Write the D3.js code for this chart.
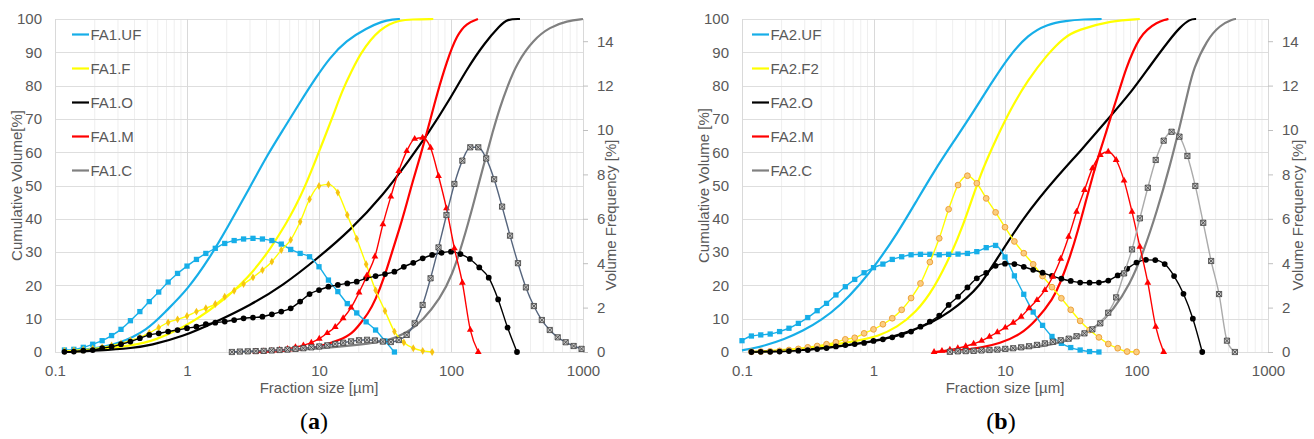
<!DOCTYPE html>
<html>
<head>
<meta charset="utf-8">
<script src="https://cdn.jsdelivr.net/npm/d3@7"></script>
<style>
  body { margin: 0; background: #fff; }
  svg { display: block; font-family: "Liberation Sans", Arial, sans-serif; }
</style>
</head>
<body>
<svg id="chart" width="1314" height="439"></svg>
<script>
// size classes of the two measuring set-ups, in µm
const binsA = [0.1, 0.1179, 0.1389, 0.1638, 0.1931, 0.2276, 0.2683, 0.3162, 0.3728, 0.4394,
  0.5179, 0.6105, 0.7197, 0.8483, 1, 1.179, 1.389, 1.638, 1.931, 2.276,
  2.683, 3.162, 3.728, 4.394, 5.179, 6.105, 7.197, 8.483, 10, 11.79,
  13.89, 16.38, 19.31, 22.76, 26.83, 31.62, 37.28, 43.94, 51.79, 61.05,
  71.97, 84.83, 100, 117.9, 138.9, 163.8, 193.1, 227.6, 268.3, 316.2, 372.8];
const binsB = [1.094, 1.257, 1.444, 1.658, 1.905, 2.188, 2.513, 2.887, 3.316, 3.810,
  4.376, 5.027, 5.774, 6.633, 7.619, 8.752, 10.05, 11.55, 13.27, 15.24,
  17.50, 20.11, 23.10, 26.53, 30.48, 35.01, 40.21, 46.19, 53.06, 60.95,
  70.02, 80.43, 92.39, 106.1, 121.9, 140.0, 160.9, 184.8, 212.2, 243.8,
  280.1, 321.7, 369.5, 424.5, 487.6, 560.1, 643.4, 739.1, 849.0, 975.2];

const xTicks = [0.1, 1, 10, 100, 1000];
const xTickLabels = ["0.1", "1", "10", "100", "1000"];
const cumTicks = [0, 10, 20, 30, 40, 50, 60, 70, 80, 90, 100];
const freqTicks = [0, 2, 4, 6, 8, 10, 12, 14];

const fa1Names = ["FA1.UF", "FA1.F", "FA1.O", "FA1.M", "FA1.C"];
const fa2Names = ["FA2.UF", "FA2.F2", "FA2.O", "FA2.M", "FA2.C"];

// volume frequency [%], one value per size class
const fa1UF_freq = [0.09, 0.12, 0.21, 0.35, 0.51, 0.74, 1.02, 1.41, 1.82, 2.27, 2.70, 3.15, 3.54, 3.87,
  4.17, 4.44, 4.67, 4.89, 5.02, 5.09, 5.12, 5.09, 5.02, 4.86, 4.62, 4.44, 4.29, 3.84, 3.24,
  2.72, 2.18, 1.76, 1.36, 0.99, 0.5, 0];
const fa1F_freq = [0.05, 0.07, 0.1, 0.15, 0.21, 0.29, 0.39, 0.52, 0.66, 0.86,
  1.1, 1.33, 1.47, 1.62, 1.82, 1.97, 2.16, 2.49, 2.76, 3.06, 3.36, 3.69, 4.07, 4.59, 5.05, 5.87,
  6.88, 7.48, 7.55, 7.18, 6.17, 5.1, 3.95, 2.78, 1.85, 0.92, 0.43, 0.17, 0.05, 0];
const fa1O_freq = [0.01, 0.02, 0.06, 0.09, 0.17, 0.24, 0.35, 0.47, 0.62, 0.77,
  0.84, 0.92, 0.99, 1.07, 1.14, 1.25, 1.32, 1.37, 1.44, 1.52, 1.55, 1.59, 1.70, 1.82, 1.97, 2.27,
  2.61, 2.79, 2.94, 3.02, 3.09, 3.17, 3.32, 3.42, 3.51, 3.62, 3.84,
  4.02, 4.22, 4.37, 4.47, 4.52, 4.41, 4.19, 3.81, 3.35, 2.37, 1.1, 0];
const fa1M_freq = [0.01, 0.03, 0.05, 0.09, 0.14, 0.22, 0.3, 0.42, 0.6, 0.85, 1.13, 1.52, 2.0, 2.68,
  3.45, 4.3, 5.75, 7.0, 8.15, 9.05, 9.6, 9.65, 9.2, 7.93, 6.47, 4.67, 3.12, 1.0, 0];
const fa1C_freq = [0.0, 0.02, 0.03, 0.04, 0.05, 0.07, 0.09, 0.11, 0.14, 0.17, 0.21, 0.25, 0.3, 0.36,
  0.42, 0.48, 0.53, 0.55, 0.52, 0.47, 0.45, 0.54, 0.77, 1.29, 2.12, 3.32, 4.71, 6.17, 7.57, 8.62,
  9.22, 9.22, 8.72, 7.78, 6.55, 5.24, 4.0, 2.91, 2.07, 1.44, 0.99, 0.66, 0.44, 0.27, 0.14];

const fa2UF_freq = [0.51, 0.72, 0.77, 0.81, 0.92, 1.07, 1.29, 1.55, 1.86, 2.19, 2.57, 2.94, 3.27, 3.57,
  3.80, 3.96, 4.17, 4.29, 4.38, 4.40, 4.40, 4.38, 4.40, 4.41, 4.44, 4.52, 4.70, 4.80, 4.28, 3.43,
  2.6, 1.8, 1.2, 0.7, 0.39, 0.2, 0.09, 0.02, 0];
const fa2F2_freq = [0.01, 0.02, 0.03, 0.05, 0.09, 0.14, 0.21, 0.27, 0.35, 0.44, 0.57, 0.64, 0.84,
  1.02, 1.25, 1.52, 1.9, 2.43, 3.09, 4.05, 5.12, 6.43, 7.52, 7.94, 7.6, 6.92, 6.29, 5.62, 4.98,
  4.45, 3.95, 3.42, 2.92, 2.42, 1.9, 1.4, 0.99, 0.66, 0.36, 0.17, 0.02, 0];
const fa2O_freq = [0.0, 0.01, 0.01, 0.02, 0.04, 0.06, 0.09, 0.13, 0.18, 0.25, 0.31, 0.36, 0.41, 0.5,
  0.57, 0.66, 0.77, 0.92, 1.14, 1.37, 1.64, 2.12, 2.49, 2.91, 3.32, 3.56, 3.88, 3.98, 3.96, 3.84,
  3.7, 3.57, 3.43, 3.3, 3.2, 3.13, 3.12, 3.13, 3.22, 3.45, 3.75, 4.03, 4.15, 4.14, 3.96, 3.42,
  2.62, 1.5, 0];
const fa2M_freq = [0, 0.05, 0.1, 0.17, 0.26, 0.37, 0.5, 0.69, 0.89, 1.1, 1.32, 1.59, 1.97, 2.34,
  2.79, 3.39, 4.2, 5.19, 6.32, 7.3, 8.27, 8.87, 9.02, 8.65, 7.72, 6.32, 4.74, 3.12, 1.14, 0];
const fa2C_freq = [0.01, 0.03, 0.04, 0.05, 0.07, 0.09, 0.11, 0.14, 0.17, 0.21, 0.26, 0.32, 0.39, 0.46,
  0.53, 0.6, 0.71, 0.84, 1.02, 1.29, 1.77, 2.46, 3.54, 4.62, 6.02, 7.4, 8.65, 9.52, 9.92,
  9.7, 8.83, 7.48, 5.82, 4.1, 2.61, 0.51, 0];

// cumulative volume [%] : [size µm, value]
const fa1UF_cum = [[0.115, 0], [0.2, 1], [0.3, 2.4], [0.5, 6.5], [0.7, 12.5], [1.0, 18.5], [1.5, 28.5],
  [2.0, 37], [3.05, 50], [4.04, 59], [5.5, 67.5], [7.18, 75], [9.5, 82.5], [12.1, 88.4], [16, 93.5],
  [23.1, 97.3], [30, 99.3], [36.3, 99.9], [41, 100]];
const fa1F_cum = [[0.115, 0], [0.2, 0.5], [0.39, 2], [0.56, 3.3], [1.086, 8.5], [2.1, 17], [2.85, 22],
  [4.04, 29.5], [4.77, 34], [5.62, 38.5], [6.6, 43.5], [7.8, 49.5], [9.2, 56.5], [10.8, 63.5],
  [12.8, 71], [15, 78.5], [17.7, 84.5], [20.8, 89.8], [24.6, 93.8], [29, 96.7], [34.1, 98.5],
  [40.2, 99.5], [50, 99.9], [73.4, 100]];
const fa1O_cum = [[0.115, 0], [0.219, 0.4], [0.39, 1.2], [0.525, 2], [0.933, 4.6], [1.69, 9.2],
  [3.0, 14], [5.34, 20], [9.66, 28], [17.2, 36.5], [30.5, 47], [48.9, 58], [66.9, 65.5],
  [98.3, 76], [132, 85], [181, 93], [235, 98], [266, 100], [333, 100]];
const fa1M_cum = [[3.39, 0], [7.18, 0.6], [10.2, 1.6], [14.4, 3.6], [17.8, 5.5], [20.5, 8.5],
  [23.5, 11.5], [26.6, 15.3], [31.6, 23], [35.7, 30], [41.1, 37.5], [46.5, 45], [51.5, 51.5],
  [58.2, 58.5], [66.9, 67], [78.3, 77.5], [93.3, 87.5], [111, 95.3], [132, 98.8], [160, 100]];
const fa1C_cum = [[2.19, 0], [5.06, 0.4], [11.7, 1.2], [20.5, 2.2], [32.7, 3.2], [46.5, 5.7],
  [61.4, 9.6], [82.6, 16], [102, 23], [123, 33], [147, 44], [175, 55.5], [208, 66.5],
  [235, 73.5], [266, 79.5], [316, 86.8], [418, 93.7], [562, 97.6], [757, 99.4], [1000, 100]];

const fa2UF_cum = [[0.1, 0.5], [0.128, 1.3], [0.15, 2], [0.209, 3.8], [0.29, 6.3], [0.403, 9.6],
  [0.56, 14], [0.78, 20], [1.086, 27.2], [1.51, 35.5], [2.1, 45], [2.91, 54.5], [4.04, 63],
  [5.62, 71.5], [7.8, 80.5], [10.8, 89], [15, 95.3], [20.8, 98.4], [29, 99.5], [40, 99.9], [54.3, 100]];
const fa2F2_cum = [[0.12, 0], [0.2, 0.5], [0.44, 1.8], [0.79, 3.5], [1.08, 4.7], [1.51, 7.4],
  [2.09, 11.8], [2.88, 18.9], [4.02, 30.5], [4.79, 38], [5.62, 46], [6.56, 53.5], [7.8, 60.5],
  [10.8, 72.4], [15.0, 81.8], [20.8, 89.2], [28.1, 94.5], [35.5, 96.7], [64.4, 99.5], [106, 100]];
const fa2O_cum = [[0.1186, 0], [0.232, 0.4], [0.44, 1.1], [1.0, 3.1], [1.415, 4.6], [2.01, 6.6],
  [2.85, 9.1], [3.82, 12.1], [5.11, 16.1], [6.45, 20.1], [7.69, 24.6], [13.8, 40.6], [26.2, 53.7],
  [37.2, 60.2], [64, 71], [94, 78.7], [127, 86], [180, 94], [214, 97.5], [255, 100], [284, 100]];
const fa2M_cum = [[2.835, 0], [4.55, 0.4], [6.45, 1.2], [9.16, 2.6], [13.0, 5.1], [17.4, 9.6],
  [23.3, 16.1], [26.2, 20.5], [31.2, 28.5], [35.9, 36.5], [41, 45], [46.9, 53.5], [52.5, 60],
  [59.3, 66.5], [66.6, 73], [74.9, 79.3], [84, 85.5], [94.6, 90.5], [106, 94.3], [119.6, 96.8],
  [142.5, 98.9], [164.9, 99.8], [175, 100]];
const fa2C_cum = [[3.82, 0], [9.16, 0.6], [20.8, 1.6], [37.2, 4.6], [49.8, 7.6], [66.6, 12.6],
  [89.3, 20.3], [112.7, 30], [142.5, 42], [180, 56], [214, 68], [247.7, 78.5], [270.4, 85],
  [342, 93.7], [431.5, 98.2], [544.6, 100], [571, 100]];

// which size classes each frequency curve uses and where it starts
const fa1Series = [
  { name: fa1Names[0], kind: "UF", bins: binsA, start: 1, freq: fa1UF_freq, cum: fa1UF_cum },
  { name: fa1Names[1], kind: "F", bins: binsA, start: 1, freq: fa1F_freq, cum: fa1F_cum },
  { name: fa1Names[2], kind: "O", bins: binsA, start: 1, freq: fa1O_freq, cum: fa1O_cum },
  { name: fa1Names[3], kind: "M", bins: binsB, start: 8, freq: fa1M_freq, cum: fa1M_cum },
  { name: fa1Names[4], kind: "C", bins: binsB, start: 5, freq: fa1C_freq, cum: fa1C_cum }
];
const fa2Series = [
  { name: fa2Names[0], kind: "UF", bins: binsA, start: 0, freq: fa2UF_freq, cum: fa2UF_cum },
  { name: fa2Names[1], kind: "F2", bins: binsA, start: 1, freq: fa2F2_freq, cum: fa2F2_cum },
  { name: fa2Names[2], kind: "O", bins: binsA, start: 1, freq: fa2O_freq, cum: fa2O_cum },
  { name: fa2Names[3], kind: "M", bins: binsB, start: 7, freq: fa2M_freq, cum: fa2M_cum },
  { name: fa2Names[4], kind: "C2", bins: binsB, start: 9, freq: fa2C_freq, cum: fa2C_cum }
];

const cyan = "#16aee8";
const styles = {
  UF: { line: cyan, cum: cyan, marker: "square", fill: cyan, stroke: "none" },
  F:  { line: "#ffff00", cum: "#ffff00", marker: "diamond", fill: "#f6c412", stroke: "none" },
  F2: { line: "#ffff00", cum: "#ffff00", marker: "circle", fill: "#fbcd80", stroke: "#eda23a" },
  O:  { line: "#000000", cum: "#000000", marker: "circle", fill: "#000000", stroke: "none" },
  M:  { line: "#ff0000", cum: "#ff0000", marker: "triangle", fill: "#ff0000", stroke: "none" },
  C:  { line: "#56657d", cum: "#808080", marker: "boxx", fill: "#c6c6c6", stroke: "#3c3c3c" },
  C2: { line: "#ababab", cum: "#808080", marker: "boxx", fill: "#c6c6c6", stroke: "#3c3c3c" }
};

const textColor = "#595959";
const plotTop = 19, plotBottom = 352;
const svg = d3.select("#chart");

const panels = [
  { series: fa1Series, left: 55, right: 583, yTitle: "Cumulative Volume[%]", yTitleX: 21.5,
    rTitleX: 616, legendX: 72, caption: "a", captionX: 314 },
  { series: fa2Series, left: 742, right: 1268, yTitle: "Cumulative Volume [%]", yTitleX: 709,
    rTitleX: 1303, legendX: 752, caption: "b", captionX: 1001 }
];

function markerPath(type) {
  if (type === "square") return d3.symbol().type(d3.symbolSquare).size(28)();
  if (type === "diamond") return d3.symbol().type(d3.symbolDiamond).size(18)();
  if (type === "triangle") return d3.symbol().type(d3.symbolTriangle).size(20)();
  if (type === "circle") return d3.symbol().type(d3.symbolCircle).size(26)();
  return "M-2.6,-2.6H2.6V2.6H-2.6Z M-2.6,-2.6L2.6,2.6 M2.6,-2.6L-2.6,2.6";
}

panels.forEach(p => {
  const g = svg.append("g");
  const x = d3.scaleLog().domain([0.1, 1000]).range([p.left, p.right]);
  const yC = d3.scaleLinear().domain([0, 100]).range([plotBottom, plotTop]);
  const yF = d3.scaleLinear().domain([0, 15]).range([plotBottom, plotTop]);

  // grid
  const minor = [];
  [0.1, 1, 10, 100].forEach(d => { for (let m = 2; m <= 9; m++) minor.push(d * m); });
  g.append("g").selectAll("line").data(minor).join("line")
    .attr("x1", d => x(d)).attr("x2", d => x(d))
    .attr("y1", plotTop).attr("y2", plotBottom)
    .attr("stroke", "#efefef").attr("stroke-width", 1);
  g.append("g").selectAll("line").data(cumTicks).join("line")
    .attr("x1", p.left).attr("x2", p.right)
    .attr("y1", d => Math.round(yC(d)) + 0.5).attr("y2", d => Math.round(yC(d)) + 0.5)
    .attr("stroke", "#dedede").attr("stroke-width", 1);
  g.append("g").selectAll("line").data(xTicks).join("line")
    .attr("x1", d => Math.round(x(d)) + 0.5).attr("x2", d => Math.round(x(d)) + 0.5)
    .attr("y1", plotTop).attr("y2", plotBottom)
    .attr("stroke", "#d9d9d9").attr("stroke-width", 1);

  // axes
  const axL = g.append("g").attr("transform", `translate(${p.left},0)`)
    .call(d3.axisLeft(yC).tickValues(cumTicks).tickSize(0).tickPadding(13));
  const axR = g.append("g").attr("transform", `translate(${p.right},0)`)
    .call(d3.axisRight(yF).tickValues(freqTicks).tickSize(5).tickPadding(9));
  const axB = g.append("g").attr("transform", `translate(0,${plotBottom})`)
    .call(d3.axisBottom(x).tickValues(xTicks).tickFormat((d, i) => xTickLabels[i]).tickSize(0).tickPadding(13));
  [axL, axR, axB].forEach(a => {
    a.select(".domain").remove();
    a.selectAll("text").attr("fill", textColor).style("font-size", "15px")
      .style("font-family", '"Liberation Sans", Arial, sans-serif');
  });
  axR.selectAll(".tick line").attr("stroke", "#bfbfbf");

  // titles
  g.append("text").attr("transform", `translate(${p.yTitleX},${(plotTop + plotBottom) / 2}) rotate(-90)`)
    .attr("text-anchor", "middle").attr("fill", textColor).style("font-size", "15px").text(p.yTitle);
  g.append("text").attr("transform", `translate(${p.rTitleX},215) rotate(-90)`)
    .attr("text-anchor", "middle").attr("fill", textColor).style("font-size", "15px").text("Volume Frequency [%]");
  g.append("text").attr("x", (p.left + p.right) / 2).attr("y", 393)
    .attr("text-anchor", "middle").attr("fill", textColor).style("font-size", "15px").text("Fraction size [µm]");

  const lineC = d3.line().x(d => x(d[0])).y(d => yC(d[1])).curve(d3.curveBasis);
  const lineF = d3.line().x(d => x(d[0])).y(d => yF(d[1])).curve(d3.curveMonotoneX);

  // cumulative curves (primary axis)
  p.series.forEach(s => {
    g.append("path").attr("d", lineC(s.cum)).attr("fill", "none")
      .attr("stroke", styles[s.kind].cum).attr("stroke-width", 2.2);
  });

  // frequency curves (secondary axis)
  p.series.forEach(s => {
    const st = styles[s.kind];
    const pts = s.freq.map((v, i) => [s.bins[s.start + i], v]);
    g.append("path").attr("d", lineF(pts)).attr("fill", "none")
      .attr("stroke", st.line).attr("stroke-width", 1.4);
    const mp = markerPath(st.marker);
    g.append("g").selectAll("path").data(pts).join("path")
      .attr("transform", d => `translate(${x(d[0])},${yF(d[1])})`)
      .attr("d", mp).attr("fill", st.fill)
      .attr("stroke", st.stroke).attr("stroke-width", st.marker === "boxx" ? 0.8 : 1);
  });

  // legend
  const leg = g.append("g").selectAll("g").data(p.series).join("g")
    .attr("transform", (d, i) => `translate(${p.legendX},${34.5 + i * 34})`);
  leg.append("line").attr("x1", 0).attr("x2", 17).attr("stroke-width", 2.2)
    .attr("stroke", d => styles[d.kind].cum);
  leg.append("text").attr("x", 18.5).attr("dy", "0.36em").attr("fill", textColor)
    .style("font-size", "15px").text(d => d.name);

  // panel caption
  const cap = g.append("text").attr("x", p.captionX).attr("y", 429).attr("text-anchor", "middle")
    .style("font-family", '"Liberation Serif", "DejaVu Serif", serif').style("font-size", "24px").attr("fill", "#000");
  cap.append("tspan").text("(");
  cap.append("tspan").attr("font-weight", "bold").text(p.caption);
  cap.append("tspan").text(")");
});
</script>
</body>
</html>
